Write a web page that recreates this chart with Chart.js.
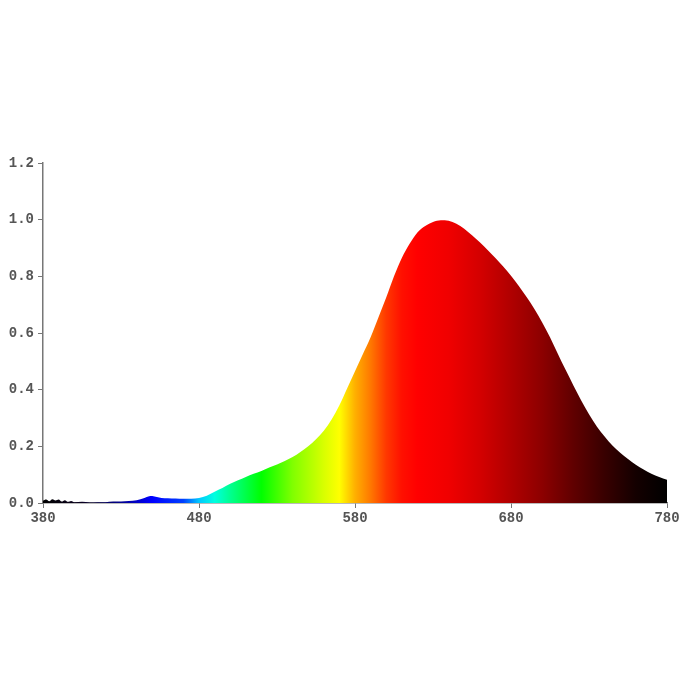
<!DOCTYPE html>
<html>
<head>
<meta charset="utf-8">
<script src="https://cdn.jsdelivr.net/npm/chart.js@4/dist/chart.umd.min.js"></script>
<style>
  html, body { margin: 0; padding: 0; background: #fff; }
  #wrap { width: 700px; height: 700px; }
</style>
</head>
<body>
<div id="wrap"><canvas id="spectrum" width="700" height="700"></canvas></div>
<script>
// wavelength (nm) and relative intensity
const wavelengths = [380, 382, 384, 386, 388, 390, 392, 394, 396, 398, 400, 405, 410, 415, 420, 425, 430, 435, 440, 445, 448, 450, 453, 456, 460, 465, 470, 475, 480, 485, 490, 495, 500, 505, 510, 515, 520, 525, 530, 535, 540, 545, 550, 555, 560, 565, 570, 575, 580, 585, 590, 595, 600, 605, 610, 615, 620, 625, 630, 635, 640, 645, 650, 655, 660, 665, 670, 675, 680, 685, 690, 695, 700, 705, 710, 715, 720, 725, 730, 735, 740, 745, 750, 755, 760, 765, 770, 775, 780];
const intensity = [0.008, 0.012, 0.006, 0.013, 0.009, 0.012, 0.005, 0.010, 0.004, 0.007, 0.003, 0.004, 0.002, 0.003, 0.003, 0.005, 0.005, 0.007, 0.010, 0.018, 0.024, 0.025, 0.021, 0.018, 0.017, 0.016, 0.015, 0.015, 0.018, 0.026, 0.040, 0.053, 0.068, 0.080, 0.092, 0.103, 0.113, 0.125, 0.136, 0.148, 0.162, 0.180, 0.200, 0.225, 0.255, 0.295, 0.345, 0.405, 0.465, 0.525, 0.585, 0.655, 0.725, 0.800, 0.865, 0.915, 0.955, 0.978, 0.992, 0.998, 0.996, 0.986, 0.968, 0.945, 0.920, 0.893, 0.865, 0.835, 0.802, 0.766, 0.727, 0.685, 0.637, 0.585, 0.527, 0.470, 0.415, 0.362, 0.313, 0.270, 0.235, 0.203, 0.177, 0.155, 0.135, 0.118, 0.103, 0.092, 0.082];

const xTicks = [380, 480, 580, 680, 780];
const yTicks = [0, 0.2, 0.4, 0.6, 0.8, 1.0, 1.2];

// colour of the fill at each wavelength
const stopNm = [380, 405, 430, 450, 470, 480, 490, 500, 520, 540, 560, 570, 580, 590, 600, 610, 620, 640, 660, 680, 700, 720, 740, 760, 780];
const stopColors = ['#000000', '#0a0020', '#000090', '#0000ff', '#0040ff', '#00c8ff', '#00ffe0', '#00ff90', '#00ff00', '#80ff00', '#d8ff00', '#ffff00', '#ffb000', '#ff7800', '#ff3800', '#ff1000', '#ff0000', '#f00000', '#d40000', '#b00000', '#8c0000', '#600000', '#380000', '#140000', '#000000'];

const points = wavelengths.map((w, i) => ({ x: w, y: intensity[i] }));

function spectrumFill(context) {
  const chart = context.chart;
  const area = chart.chartArea;
  if (!area) return '#ff0000';
  const xs = chart.scales.x;
  const g = chart.ctx.createLinearGradient(area.left, 0, area.right, 0);
  stopNm.forEach((nm, i) => {
    const pos = (xs.getPixelForValue(nm) - area.left) / (area.right - area.left);
    g.addColorStop(Math.min(1, Math.max(0, pos)), stopColors[i]);
  });
  return g;
}

const tickFont = { family: '"Liberation Mono", "DejaVu Sans Mono", monospace', size: 14, weight: 'bold' };

new Chart(document.getElementById('spectrum'), {
  type: 'line',
  data: {
    datasets: [{
      data: points,
      fill: 'origin',
      backgroundColor: spectrumFill,
      borderWidth: 0,
      pointRadius: 0,
      tension: 0.3,
      cubicInterpolationMode: 'monotone'
    }]
  },
  options: {
    responsive: false,
    animation: false,
    layout: { padding: { left: 0, top: 163, right: 33, bottom: 167 } },
    plugins: { legend: { display: false }, tooltip: { enabled: false } },
    scales: {
      x: {
        type: 'linear',
        min: 380,
        max: 780,
        afterBuildTicks: axis => { axis.ticks = xTicks.map(v => ({ value: v })); },
        afterFit: axis => { axis.height = 30; },
        border: { color: '#777', width: 1.5 },
        grid: { drawOnChartArea: false, color: '#777', tickLength: 5 },
        ticks: { color: '#555', font: tickFont, padding: 2, maxRotation: 0 }
      },
      y: {
        min: 0,
        max: 1.2,
        afterBuildTicks: axis => { axis.ticks = yTicks.map(v => ({ value: v })); },
        afterFit: axis => { axis.width = 43; },
        border: { color: '#777', width: 1.5 },
        grid: { drawOnChartArea: false, color: '#777', tickLength: 5 },
        ticks: { color: '#555', font: tickFont, padding: 4, callback: v => v.toFixed(1) }
      }
    }
  }
});
</script>
</body>
</html>
